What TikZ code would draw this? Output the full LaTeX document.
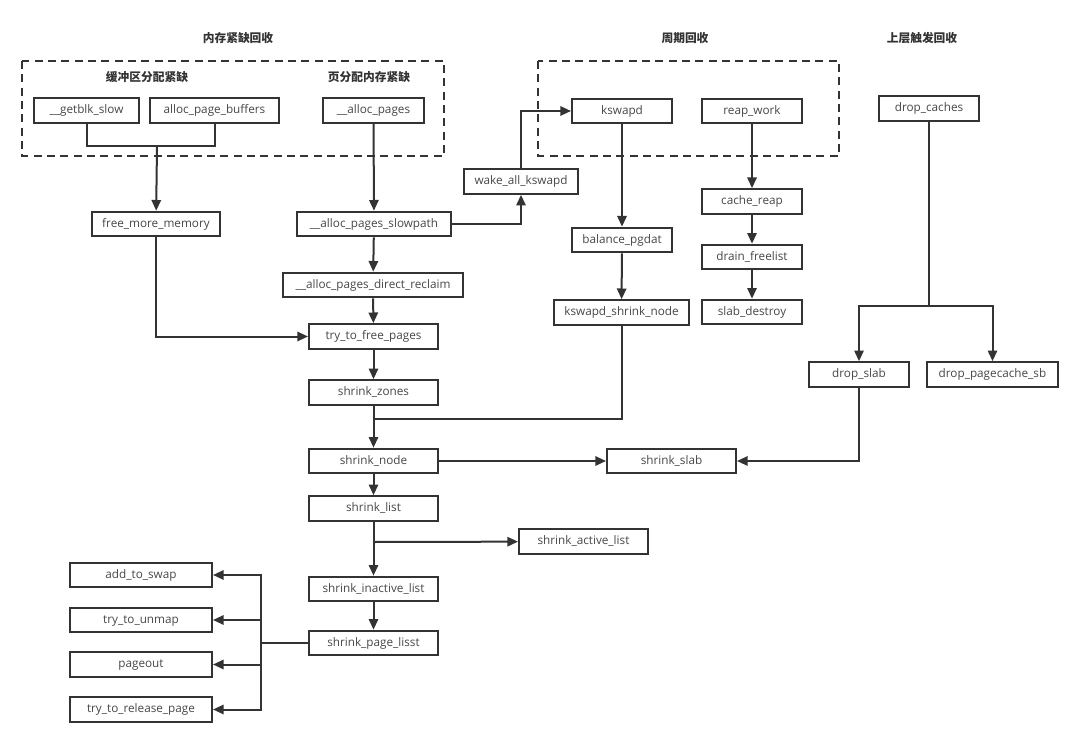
\documentclass[tikz,border=0pt]{standalone}
\usepackage{fontspec}
\setmainfont{Open Sans}
\newfontfamily\cjk{Noto Sans CJK SC}
\usepackage{xcolor}
\usetikzlibrary{arrows.meta,positioning}
\definecolor{InkGray}{HTML}{333333}

\begin{document}
\begin{tikzpicture}[
  x=0.75pt, y=-0.75pt,
  fnbox/.style={draw=InkGray, line width=1.5pt, fill=white, inner sep=0pt,
               minimum width=#1*0.75pt, minimum height=18.5pt, text height=6.6pt, text depth=1.9pt,
               font=\fontsize{8.8}{10}\selectfont, text=InkGray!90},
  fnbox/.default=100,
  grouptitle/.style={font=\cjk\bfseries\fontsize{8.8}{10}\selectfont, text=InkGray},
  groupframe/.style={draw=InkGray, line width=1.5pt, dash pattern=on 6pt off 4pt},
  link/.style={draw=InkGray, line width=1.5pt},
  arrow/.style={link, -{Triangle[length=8pt,width=7pt]}}
]
\useasboundingbox (0,0) rectangle (1080,745);

% group frames and titles
\draw[groupframe] (22,61) rectangle (444,156);
\draw[groupframe] (538,61) rectangle (839,156);
\node[grouptitle] (t_mem) at (238,38) {内存紧缺回收};
\node[grouptitle] (t_buf) at (147,77) {缓冲区分配紧缺};
\node[grouptitle] (t_page) at (369,77) {页分配内存紧缺};
\node[grouptitle] (t_cycle) at (685,38) {周期回收};
\node[grouptitle] (t_upper) at (922,38) {上层触发回收};

% memory shortage path
\node[fnbox=105] (getblk) at (86.5,110.5) {\_\_getblk\_slow};
\node[fnbox=129] (pagebuf) at (214.5,110.5) {alloc\_page\_buffers};
\node[fnbox=101] (allocpages) at (373.5,110.5) {\_\_alloc\_pages};
\node[fnbox=128] (freemore) at (156,224) {free\_more\_memory};
\node[fnbox=154] (slowpath) at (374,224) {\_\_alloc\_pages\_slowpath};
\node[fnbox=180] (direct) at (373,285) {\_\_alloc\_pages\_direct\_reclaim};
\node[fnbox=129] (tryfree) at (373.5,336.5) {try\_to\_free\_pages};
\node[fnbox=129] (zones) at (373.5,392.5) {shrink\_zones};
\node[fnbox=129] (node) at (373.5,461) {shrink\_node};
\node[fnbox=129] (slab) at (671.5,461) {shrink\_slab};
\node[fnbox=129] (list) at (373.5,508.5) {shrink\_list};
\node[fnbox=129] (active) at (583.5,541.5) {shrink\_active\_list};
\node[fnbox=129] (inactive) at (373.5,589) {shrink\_inactive\_list};
\node[fnbox=129] (pagelist) at (373.5,643) {shrink\_page\_lisst};

% page list callees
\node[fnbox=142] (swap) at (141,575) {add\_to\_swap};
\node[fnbox=142] (unmap) at (141,620) {try\_to\_unmap};
\node[fnbox=142] (pageout) at (141,664.5) {pageout};
\node[fnbox=142] (release) at (141,709.5) {try\_to\_release\_page};

% periodic reclaim
\node[fnbox=114] (wake) at (521,181.5) {wake\_all\_kswapd};
\node[fnbox] (kswapd) at (622,111) {kswapd};
\node[fnbox] (reap) at (752,111) {reap\_work};
\node[fnbox] (balance) at (622,240) {balance\_pgdat};
\node[fnbox=135] (kshrink) at (621.5,312.5) {kswapd\_shrink\_node};
\node[fnbox] (cachereap) at (752,201.5) {cache\_reap};
\node[fnbox] (drain) at (752,257) {drain\_freelist};
\node[fnbox] (destroy) at (752,312) {slab\_destroy};

% upper layer reclaim
\node[fnbox] (dropcaches) at (929,108.5) {drop\_caches};
\node[fnbox] (dropslab) at (859,374.5) {drop\_slab};
\node[fnbox=131] (droppc) at (992.5,374.5) {drop\_pagecache\_sb};

\coordinate (bufjoin) at (157,146);
\coordinate (zonejoin) at (373.5,419);
\coordinate (dropjoin) at (929,306);
\coordinate (activejoin) at (373.5,542);
\coordinate (pagebus) at (261,643);

% connectors
\draw[link] (getblk.south) |- (bufjoin) -| (pagebuf.south);
\draw[arrow] (bufjoin) -- (freemore);
\draw[arrow] (allocpages) -- (slowpath);
\draw[arrow] (slowpath.east) -| (wake.south);
\draw[arrow] (wake.north) |- (kswapd.west);
\draw[arrow] (slowpath) -- (direct);
\draw[arrow] (direct) -- (tryfree);
\draw[arrow] (freemore.south) |- (tryfree.west);
\draw[arrow] (tryfree) -- (zones);
\draw[link] (kshrink.south) |- (zonejoin);
\draw[arrow] (zones) -- (node);
\draw[arrow] (node) -- (slab);
\draw[arrow] (node) -- (list);
\draw[arrow] (activejoin) -- (active);
\draw[arrow] (list) -- (inactive);
\draw[arrow] (inactive) -- (pagelist);
\draw[link] (pagelist.west) -- (pagebus);
\draw[arrow] (pagebus) |- (swap.east);
\draw[arrow] (pagebus) |- (unmap.east);
\draw[arrow] (pagebus) |- (pageout.east);
\draw[arrow] (pagebus) |- (release.east);
\draw[arrow] (kswapd) -- (balance);
\draw[arrow] (balance) -- (kshrink);
\draw[arrow] (reap) -- (cachereap);
\draw[arrow] (cachereap) -- (drain);
\draw[arrow] (drain) -- (destroy);
\draw[link] (dropcaches) -- (dropjoin);
\draw[arrow] (dropjoin) -| (dropslab.north);
\draw[arrow] (dropjoin) -| (droppc.north);
\draw[arrow] (dropslab.south) |- (slab.east);
\end{tikzpicture}
\end{document}
